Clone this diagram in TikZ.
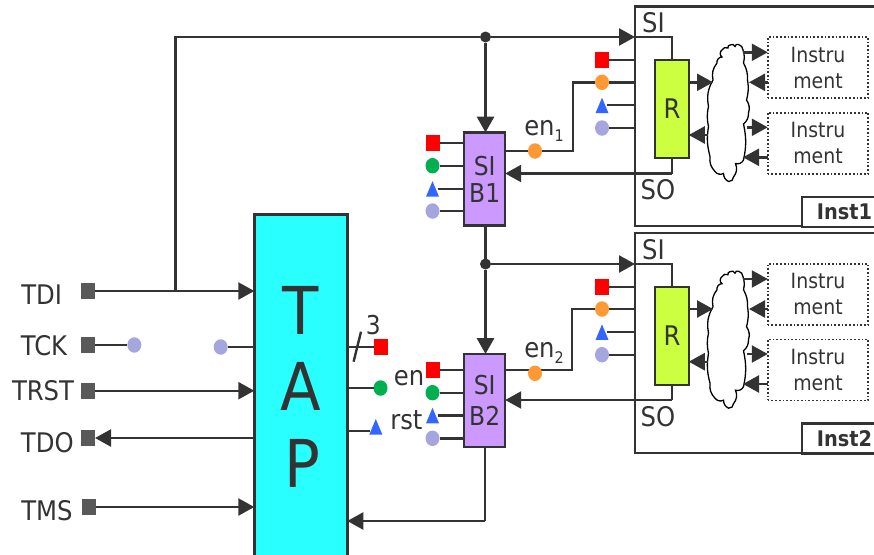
\documentclass[tikz,border=0pt]{standalone}
\usepackage{fontspec}
\setmainfont{DejaVu Sans}[FakeStretch=0.9]
\usetikzlibrary{arrows.meta,shapes.geometric}
\definecolor{ink}{HTML}{333333}
\definecolor{sibfill}{HTML}{CC99FF}
\definecolor{regfill}{HTML}{CCFF3F}
\definecolor{tapfill}{HTML}{2AFFFF}
\definecolor{pinorange}{HTML}{FF9933}
\definecolor{pingreen}{HTML}{00B050}
\definecolor{pinblue}{HTML}{3366FF}
\definecolor{pinlav}{HTML}{A6A6DE}
\definecolor{pingray}{HTML}{595959}
\newcommand{\fs}[1]{\fontsize{#1}{#1}\selectfont}
\newcommand{\tripin}[1]{\fill[pinblue] ([shift={(0pt,7.5pt)}]#1) -- ([shift={(6.5pt,-8pt)}]#1) -- ([shift={(-6.5pt,-8pt)}]#1) -- cycle;}
\tikzset{
  x=1pt,y=-1pt,
  every node/.style={inner sep=0pt,outer sep=0pt,text=ink},
  wire/.style={draw=ink,line width=2.4pt},
  thick wire/.style={draw=ink,line width=3.2pt},
  arr/.style={wire,-{Triangle[length=16pt,width=17pt]}},
  thick arr/.style={thick wire,-{Triangle[length=16pt,width=17pt]}},
  sz/.style 2 args={minimum width=#1pt,minimum height=#2pt},
  frame/.style={rectangle,draw=ink,line width=2.4pt},
  sibbox/.style={frame,fill=sibfill,sz={41}{93},align=center,font=\fs{26}},
  regbox/.style={frame,fill=regfill,sz={33.5}{98},font=\fs{27}},
  instr/.style={rectangle,draw=ink,line width=1.7pt,dotted,sz={100.5}{61},align=center,font=\fs{21}},
  instlabel/.style={frame,fill=white,sz={80}{30}},
  sqpin/.style={rectangle,sz={14}{16}},
  redpin/.style={sqpin,fill=red},
  graypin/.style={sqpin,fill=pingray},
  dotpin/.style={ellipse,sz={14}{15.5}},
  lab/.style={font=\fs{27}},
  letter/.style={font=\fs{66}},
  junction/.style={circle,fill=ink,minimum size=11pt},
}
\begin{document}
\begin{tikzpicture}
\clip (0,0) rectangle (874,554);
% Instrument blocks
\foreach \i/\d in {1/0pt,2/-226.7pt}{
\begin{scope}[yshift=\d]
  \node[frame,sz={250}{219.7}] (inst\i) at (760,116.2) {};
  \node[instlabel,anchor=north west] (il\i) at (801.7,196.7) {};
  \node (iltext\i) at (844.5,212) {\fs{21.5}\bfseries Inst\i};
  \node[lab] (si\i) at (653.5,23) {SI};
  \node[lab] (so\i) at (658,190) {SO};
  \node[regbox] (r\i) at (672,109) {R};
  \node[instr] (ia\i) at (818,67.7) {Instru\\[5pt]ment};
  \node[instr] (ib\i) at (818,143.2) {Instru\\[5pt]ment};
  \node[redpin] (pr\i) at (602,60) {};
  \node[dotpin,fill=pinorange] (po\i) at (602,82.3) {};
  \coordinate (pt\i) at (602,105.2);
  \node[dotpin,fill=pinlav] (pl\i) at (602,128) {};
  \tripin{pt\i}
  \draw[wire] (pr\i.east) -- (pr\i.east -| inst\i.west);
  \draw[wire] (po\i.east) -- (po\i.east -| inst\i.west);
  \draw[wire] ([xshift=5pt]pt\i) -- (pt\i -| inst\i.west);
  \draw[wire] (pl\i.east) -- (pl\i.east -| inst\i.west);
  % cloud
  \draw[black,line width=1.3pt,fill=white] (713,80)
    to[bend left=25] (717,63) to[bend left=50] (722,57) to[bend left=60] (722,50)
    to[bend left=50] (728,48) to[bend left=60] (730,45) to[bend left=60] (735,46.5)
    to[bend left=60] (738.5,44.5) to[bend left=35] (743,50) to[bend left=15] (743.5,63)
    to[bend left=15] (747.5,80) to[bend left=12] (746.5,100) to[bend left=25] (748.5,113)
    to[bend left=25] (743.5,124) to[bend left=12] (743.5,160) to[bend left=40] (735.5,163.5)
    to[bend left=30] (733.5,177) to[bend left=50] (728.5,181.5) to[bend left=30] (723.5,173.5)
    to[bend left=40] (715,171.5) to[bend left=25] (710,156.5) to[bend left=12] (708.5,126.5)
    to[bend left=12] (708.5,106.5) to[bend left=20] cycle;
  \coordinate (ca\i) at (743,52.3);
  \coordinate (cb\i) at (749,82.3);
  \coordinate (cc\i) at (746.7,127.3);
  \coordinate (cd\i) at (743,157.3);
  \coordinate (ce\i) at (713,82.3);
  \coordinate (cf\i) at (708,135);
  \draw[arr] (ca\i) -- (ca\i -| ia\i.west);
  \draw[arr] (cb\i -| ia\i.west) -- (cb\i);
  \draw[arr] (cc\i) -- (cc\i -| ib\i.west);
  \draw[arr] (cd\i -| ib\i.west) -- (cd\i);
  \draw[arr] (ce\i -| r\i.east) -- (ce\i);
  \draw[arr] (cf\i) -- (cf\i -| r\i.east);
\end{scope}
}
% SIB blocks
\node[sibbox] (sib1) at (484.7,179) {SI\\[1pt]B1};
\node[sibbox] (sib2) at (484.7,400.5) {SI\\[5pt]B2};
% SIB pins
\node[redpin] (s1r) at (433,143) {};
\node[dotpin,fill=pingreen] (s1g) at (432.5,165.7) {};
\coordinate (s1t) at (432.5,188.7);
\node[dotpin,fill=pinlav] (s1l) at (432.5,211) {};
\node[redpin] (s2r) at (433,370) {};
\node[dotpin,fill=pingreen] (s2g) at (432.5,392.7) {};
\coordinate (s2t) at (432.5,415.3);
\node[dotpin,fill=pinlav] (s2l) at (432.5,438.3) {};
\tripin{s1t}
\tripin{s2t}
\foreach \i in {1,2}{
  \draw[wire] (s\i r.east) -- (s\i r.east -| sib\i.west);
  \draw[wire] (s\i g.east) -- (s\i g.east -| sib\i.west);
  \draw[wire] ([xshift=5pt]s\i t) -- (s\i t -| sib\i.west);
  \draw[wire] (s\i l.east) -- (s\i l.east -| sib\i.west);
}
% TAP
\node[frame,fill=tapfill,sz={93}{356}] (tap) at (300.8,392.3) {};
\node[letter] (tapT) at (300.7,310) {T};
\node[letter] (tapA) at (300.7,386.7) {A};
\node[letter] (tapP) at (302,463) {P};
% JTAG ports
\node[graypin] (tdi) at (88,291) {};
\node[graypin] (tck) at (88,345) {};
\node[graypin] (trst) at (88,390.7) {};
\node[graypin] (tdo) at (88,438) {};
\node[graypin] (tms) at (89,507) {};
\node[lab] (ltdi) at (41.7,294.3) {TDI};
\node[lab] (ltck) at (44,345.5) {TCK};
\node[lab] (ltrst) at (43,391) {TRST};
\node[lab] (ltdo) at (47.3,442.3) {TDO};
\node[lab] (ltms) at (47,510.5) {TMS};
\node[dotpin,fill=pinlav] (ck1) at (134.3,345) {};
\node[dotpin,fill=pinlav] (ck2) at (220.7,347) {};
\draw[arr] (tdi.east) -- (tdi.east -| tap.west);
\draw[wire] (tck.east) -- (ck1.west);
\draw[wire] (ck2.east) -- (ck2.east -| tap.west);
\draw[arr] (trst.east) -- (trst.east -| tap.west);
\draw[arr] (tdo.east -| tap.west) -- (tdo.east);
\draw[arr] (tms.east) -- (tms.east -| tap.west);
% scan chain
\coordinate (br) at (175.3,290.8);
\node[junction] (j1) at (485.5,37) {};
\node[junction] (j2) at (485.5,264) {};
\draw[wire] (br) |- (j1);
\draw[arr] (j1) -- (j1 -| inst1.west);
\draw[arr] (j2) -- (j2 -| inst2.west);
\draw[thick arr] (j1) -- (j1 |- sib1.north);
\draw[thick wire] (j1 |- sib1.south) -- (j2);
\draw[thick arr] (j2) -- (j2 |- sib2.north);
\coordinate (ret) at (485,521);
\draw[wire] (ret |- sib2.south) -- (ret);
\draw[arr] (ret) -- (ret -| tap.east);
% register wires
\foreach \i/\sy in {1/173.5,2/400}{
  \coordinate (rt\i) at (r\i.north);
  \coordinate (rb\i) at (r\i.south);
  \draw[wire] (rt\i) |- (rt\i |- {0,\ifnum\i=1 37\else 264\fi}) -- ({0,\ifnum\i=1 37\else 264\fi} -| inst\i.west);
  \coordinate (so\i p) at (672,\sy);
  \draw[wire] (rb\i) -- (so\i p);
  \draw[arr] (so\i p) -- (so\i p -| sib\i.east);
}
% enable wires
\coordinate (e1) at (535,151);
\coordinate (k1) at (573,82.3);
\coordinate (e2) at (535,370);
\coordinate (k2) at (572,309);
\draw[wire] (e1 -| sib1.east) -| (k1) -- (po1.west);
\draw[wire] (e2 -| sib2.east) -| (k2) -- (po2.west);
\node[dotpin,fill=pinorange] (eo1) at (535,151) {};
\node[dotpin,fill=pinorange] (eo2) at (535,373.3) {};
\node[lab] (len1) at (544,131) {en\raisebox{-6pt}{\fs{16}1}};
\node[lab] (len2) at (544,353) {en\raisebox{-6pt}{\fs{16}2}};
% TAP outputs
\node[redpin] (to) at (381,347) {};
\node[dotpin,fill=pingreen] (tg) at (380.5,388) {};
\coordinate (tb) at (375.8,426.5);
\coordinate (tb0) at (370,431);
\tripin{tb}
\draw[wire] (to.west -| tap.east) -- (to.west);
\draw[wire] (tg.west -| tap.east) -- (tg.west);
\draw[wire] (tb0 -| tap.east) -- (tb0);
\coordinate (sl1) at (361,331.7);
\coordinate (sl2) at (353.6,361.7);
\draw[wire] (sl1) -- (sl2);
\node[font=\fs{26}] (bus) at (373.4,325) {3};
\node[lab] (len) at (409,378) {en};
\node[lab] (lrst) at (406.4,420) {rst};
\end{tikzpicture}
\end{document}
